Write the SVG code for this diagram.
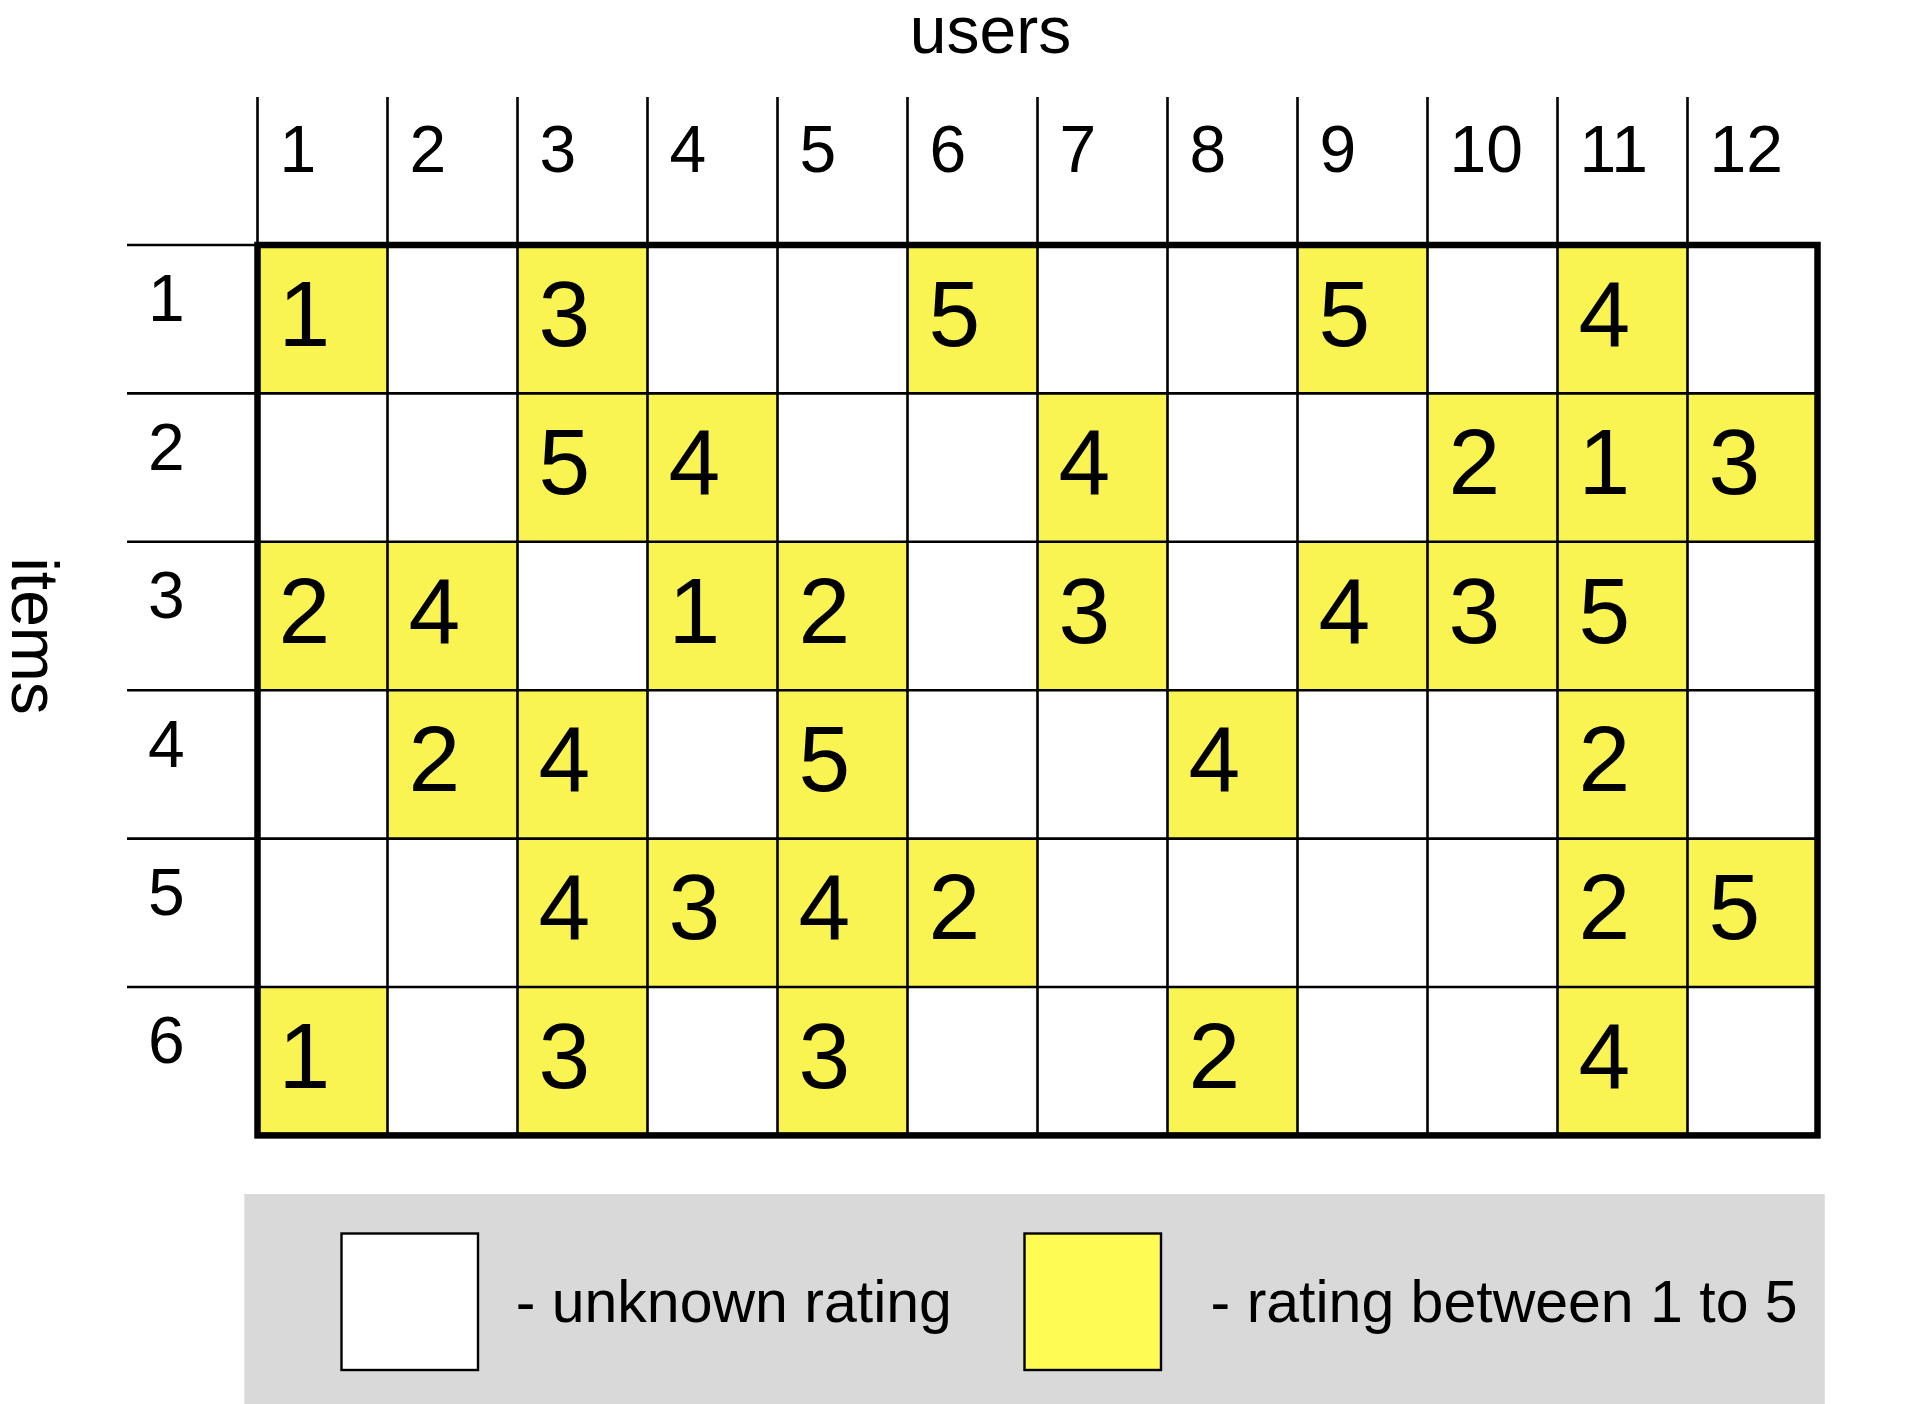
<svg xmlns="http://www.w3.org/2000/svg" width="1906" height="1404" viewBox="0 0 1906 1404">
<style>
text{font-family:"Liberation Sans",Arial,sans-serif;fill:#000}
.hdr{font-size:66px}
.val{font-size:93px}
.leg{font-size:59px}
.y{fill:#f9f451}
.thin{stroke:#000;stroke-width:2.6;fill:none}
.thick{stroke:#000;stroke-width:6.5;fill:none}
</style>
<rect width="1906" height="1404" fill="#fff"/>
<text class="hdr" x="990.5" y="53" text-anchor="middle">users</text>
<text class="hdr" transform="translate(12,636) rotate(90)" text-anchor="middle">items</text>
<g id="col-headers">
<text class="hdr" x="279.5" y="172.3">1</text>
<text class="hdr" x="409.5" y="172.3">2</text>
<text class="hdr" x="539.5" y="172.3">3</text>
<text class="hdr" x="669.5" y="172.3">4</text>
<text class="hdr" x="799.5" y="172.3">5</text>
<text class="hdr" x="929.5" y="172.3">6</text>
<text class="hdr" x="1059.5" y="172.3">7</text>
<text class="hdr" x="1189.5" y="172.3">8</text>
<text class="hdr" x="1319.5" y="172.3">9</text>
<text class="hdr" x="1449.5" y="172.3">10</text>
<text class="hdr" x="1579.5" y="172.3">11</text>
<text class="hdr" x="1709.5" y="172.3">12</text>
</g>
<g id="row-headers">
<text class="hdr" x="148" y="321.3">1</text>
<text class="hdr" x="148" y="469.7">2</text>
<text class="hdr" x="148" y="618.1">3</text>
<text class="hdr" x="148" y="766.5">4</text>
<text class="hdr" x="148" y="914.9">5</text>
<text class="hdr" x="148" y="1063.3">6</text>
</g>
<g id="cells">
<g id="r1c1"><rect class="y" x="257.5" y="245" width="130" height="148.4"/><text class="val" x="278.5" y="345.8">1</text></g>
<g id="r1c3"><rect class="y" x="517.5" y="245" width="130" height="148.4"/><text class="val" x="538.5" y="345.8">3</text></g>
<g id="r1c6"><rect class="y" x="907.5" y="245" width="130" height="148.4"/><text class="val" x="928.5" y="345.8">5</text></g>
<g id="r1c9"><rect class="y" x="1297.5" y="245" width="130" height="148.4"/><text class="val" x="1318.5" y="345.8">5</text></g>
<g id="r1c11"><rect class="y" x="1557.5" y="245" width="130" height="148.4"/><text class="val" x="1578.5" y="345.8">4</text></g>

<g id="r2c3"><rect class="y" x="517.5" y="393.4" width="130" height="148.4"/><text class="val" x="538.5" y="494.2">5</text></g>
<g id="r2c4"><rect class="y" x="647.5" y="393.4" width="130" height="148.4"/><text class="val" x="668.5" y="494.2">4</text></g>
<g id="r2c7"><rect class="y" x="1037.5" y="393.4" width="130" height="148.4"/><text class="val" x="1058.5" y="494.2">4</text></g>
<g id="r2c10"><rect class="y" x="1427.5" y="393.4" width="130" height="148.4"/><text class="val" x="1448.5" y="494.2">2</text></g>
<g id="r2c11"><rect class="y" x="1557.5" y="393.4" width="130" height="148.4"/><text class="val" x="1578.5" y="494.2">1</text></g>
<g id="r2c12"><rect class="y" x="1687.5" y="393.4" width="130" height="148.4"/><text class="val" x="1708.5" y="494.2">3</text></g>

<g id="r3c1"><rect class="y" x="257.5" y="541.8" width="130" height="148.4"/><text class="val" x="278.5" y="642.6">2</text></g>
<g id="r3c2"><rect class="y" x="387.5" y="541.8" width="130" height="148.4"/><text class="val" x="408.5" y="642.6">4</text></g>
<g id="r3c4"><rect class="y" x="647.5" y="541.8" width="130" height="148.4"/><text class="val" x="668.5" y="642.6">1</text></g>
<g id="r3c5"><rect class="y" x="777.5" y="541.8" width="130" height="148.4"/><text class="val" x="798.5" y="642.6">2</text></g>
<g id="r3c7"><rect class="y" x="1037.5" y="541.8" width="130" height="148.4"/><text class="val" x="1058.5" y="642.6">3</text></g>
<g id="r3c9"><rect class="y" x="1297.5" y="541.8" width="130" height="148.4"/><text class="val" x="1318.5" y="642.6">4</text></g>
<g id="r3c10"><rect class="y" x="1427.5" y="541.8" width="130" height="148.4"/><text class="val" x="1448.5" y="642.6">3</text></g>
<g id="r3c11"><rect class="y" x="1557.5" y="541.8" width="130" height="148.4"/><text class="val" x="1578.5" y="642.6">5</text></g>

<g id="r4c2"><rect class="y" x="387.5" y="690.2" width="130" height="148.4"/><text class="val" x="408.5" y="791">2</text></g>
<g id="r4c3"><rect class="y" x="517.5" y="690.2" width="130" height="148.4"/><text class="val" x="538.5" y="791">4</text></g>
<g id="r4c5"><rect class="y" x="777.5" y="690.2" width="130" height="148.4"/><text class="val" x="798.5" y="791">5</text></g>
<g id="r4c8"><rect class="y" x="1167.5" y="690.2" width="130" height="148.4"/><text class="val" x="1188.5" y="791">4</text></g>
<g id="r4c11"><rect class="y" x="1557.5" y="690.2" width="130" height="148.4"/><text class="val" x="1578.5" y="791">2</text></g>

<g id="r5c3"><rect class="y" x="517.5" y="838.6" width="130" height="148.4"/><text class="val" x="538.5" y="939.4">4</text></g>
<g id="r5c4"><rect class="y" x="647.5" y="838.6" width="130" height="148.4"/><text class="val" x="668.5" y="939.4">3</text></g>
<g id="r5c5"><rect class="y" x="777.5" y="838.6" width="130" height="148.4"/><text class="val" x="798.5" y="939.4">4</text></g>
<g id="r5c6"><rect class="y" x="907.5" y="838.6" width="130" height="148.4"/><text class="val" x="928.5" y="939.4">2</text></g>
<g id="r5c11"><rect class="y" x="1557.5" y="838.6" width="130" height="148.4"/><text class="val" x="1578.5" y="939.4">2</text></g>
<g id="r5c12"><rect class="y" x="1687.5" y="838.6" width="130" height="148.4"/><text class="val" x="1708.5" y="939.4">5</text></g>

<g id="r6c1"><rect class="y" x="257.5" y="987" width="130" height="148.4"/><text class="val" x="278.5" y="1087.8">1</text></g>
<g id="r6c3"><rect class="y" x="517.5" y="987" width="130" height="148.4"/><text class="val" x="538.5" y="1087.8">3</text></g>
<g id="r6c5"><rect class="y" x="777.5" y="987" width="130" height="148.4"/><text class="val" x="798.5" y="1087.8">3</text></g>
<g id="r6c8"><rect class="y" x="1167.5" y="987" width="130" height="148.4"/><text class="val" x="1188.5" y="1087.8">2</text></g>
<g id="r6c11"><rect class="y" x="1557.5" y="987" width="130" height="148.4"/><text class="val" x="1578.5" y="1087.8">4</text></g>
</g>
<g id="grid-lines">
<path class="thin" d="M387.5 97V1135.4M517.5 97V1135.4M647.5 97V1135.4M777.5 97V1135.4M907.5 97V1135.4M1037.5 97V1135.4M1167.5 97V1135.4M1297.5 97V1135.4M1427.5 97V1135.4M1557.5 97V1135.4M1687.5 97V1135.4M257.5 97V245"/>
<path class="thin" d="M127 245H257.5M127 393.4H1817.5M127 541.8H1817.5M127 690.2H1817.5M127 838.6H1817.5M127 987H1817.5"/>
<rect class="thick" x="257.5" y="245" width="1560" height="890.4"/>
</g>
<g id="legend">
<rect x="244.3" y="1194" width="1580.5" height="210" fill="#d9d9d9"/>
<g id="legend-unknown"><rect x="341.5" y="1233.5" width="136.5" height="136.5" fill="#fff" stroke="#000" stroke-width="2.4"/><text class="leg" x="515.7" y="1321.7">- unknown rating</text></g>
<g id="legend-rated"><rect x="1024.5" y="1233.5" width="136.5" height="136.5" fill="#fffb55" stroke="#000" stroke-width="2.4"/><text class="leg" x="1210.6" y="1321.7">- rating between 1 to 5</text></g>
</g>
</svg>
